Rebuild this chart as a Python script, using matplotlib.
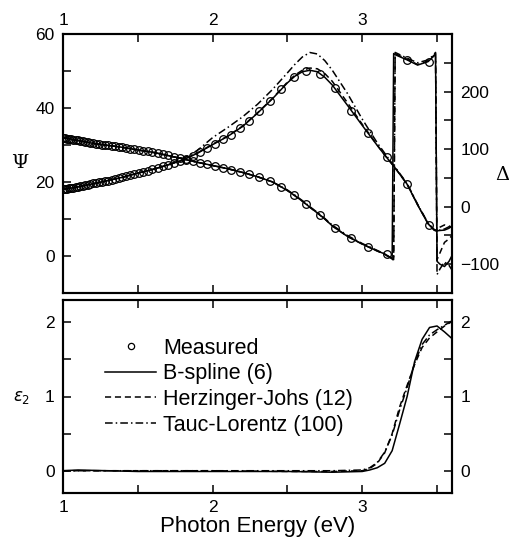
import numpy as np
import matplotlib
matplotlib.use("Agg")
import matplotlib.pyplot as plt
from matplotlib.ticker import MultipleLocator

plt.rcParams['font.family'] = ['Liberation Sans', 'DejaVu Sans']
plt.rcParams['mathtext.fontset'] = 'dejavusans'

# measured points (photon energy, eV)
meas_e = [1.000, 1.013, 1.026, 1.040, 1.054, 1.069, 1.084, 1.099, 1.115, 1.131,
          1.148, 1.165, 1.183, 1.202, 1.220, 1.240, 1.260, 1.281, 1.303, 1.325,
          1.348, 1.372, 1.396, 1.422, 1.449, 1.476, 1.505, 1.535, 1.566, 1.598,
          1.632, 1.667, 1.703, 1.742, 1.782, 1.824, 1.867, 1.914, 1.962, 2.013,
          2.067, 2.123, 2.183, 2.246, 2.313, 2.385, 2.460, 2.541, 2.627, 2.719,
          2.818, 2.925, 3.039, 3.163, 3.298, 3.444]
meas_psi = [18.0, 18.1, 18.2, 18.3, 18.4, 18.5, 18.6, 18.7, 18.8, 19.0,
            19.1, 19.2, 19.4, 19.6, 19.7, 19.9, 20.1, 20.2, 20.4, 20.6,
            20.8, 21.1, 21.3, 21.6, 21.9, 22.1, 22.4, 22.7, 23.0, 23.4,
            23.8, 24.2, 24.6, 25.1, 25.6, 26.3, 27.1, 28.1, 29.2, 30.4,
            31.5, 32.8, 34.5, 36.5, 39.1, 41.9, 45.2, 48.3, 50.1, 49.3,
            45.3, 39.3, 33.2, 26.7, 19.5, 8.5]
meas_delta = [120, 119, 118, 117.5, 117, 116, 115.5, 115, 114, 113.5,
              113, 112, 111, 110, 109.5, 109, 108, 107, 106.5, 106,
              105, 104, 103, 101.5, 100.5, 99.5, 98.5, 97.5, 96, 94.5,
              93, 91, 89, 87, 84.5, 81.5, 78.5, 76, 73.5, 71,
              68, 64.5, 60.5, 56, 51, 44.5, 34.5, 21, 4, -15,
              -37.5, -55, -69.5, -83, 255, 252]

# model curves
fit_e = [1.00, 1.10, 1.20, 1.30, 1.40, 1.50, 1.60, 1.70, 1.80, 1.90,
         2.00, 2.10, 2.20, 2.30, 2.40, 2.50, 2.55, 2.60, 2.65, 2.70,
         2.75, 2.80, 2.90, 3.00, 3.10, 3.15, 3.20, 3.21, 3.22, 3.30,
         3.37, 3.44, 3.48, 3.49, 3.50, 3.52, 3.55, 3.58, 3.60]
psi_bs = [18.0, 18.7, 19.5, 20.4, 21.3, 22.4, 23.4, 24.6, 25.9, 27.8,
          30.1, 32.3, 35.0, 38.6, 42.5, 46.8, 48.6, 49.8, 50.2, 49.8,
          48.3, 46.2, 40.8, 35.3, 29.9, 27.3, 24.8, 24.3, 23.8, 19.4,
          13.8, 8.7, 7.0, 6.8, 6.8, 6.9, 7.0, 7.5, 8.2]
psi_hj = [18.0, 18.7, 19.5, 20.4, 21.3, 22.4, 23.4, 24.6, 25.9, 27.9,
          30.2, 32.4, 35.1, 38.7, 42.6, 47.0, 48.9, 50.2, 50.8, 50.6,
          49.3, 47.2, 41.5, 35.6, 30.0, 27.3, 24.8, 24.3, 23.8, 19.4,
          13.9, 8.8, 7.1, 6.9, 7.2, 7.8, 8.4, 8.0, 7.6]
psi_tl = [18.0, 18.7, 19.5, 20.4, 21.3, 22.4, 23.4, 24.6, 26.2, 28.6,
          32.0, 34.7, 37.6, 41.0, 45.0, 49.5, 51.8, 53.8, 55.0, 54.6,
          52.8, 50.2, 44.0, 37.0, 30.6, 27.8, 25.0, 24.5, 24.0, 19.6,
          14.0, 8.9, 7.2, 7.0, 6.9, 7.0, 7.3, 7.9, 8.6]
delta_bs = [120, 115, 110, 106.5, 103, 98.5, 94.5, 89, 83, 77,
            71.5, 66, 59.5, 52, 43, 28, 19, 9.5, -1, -11,
            -21.5, -33.5, -51.5, -65, -77, -82, -90, 266, 264, 255,
            246, 252, 262, 265, -95, -100, -104, -95, -85]
delta_hj = [120, 115, 110, 106.5, 103, 98.5, 94.5, 89, 83, 77,
            71.5, 66, 59.5, 52, 43, 28, 19, 9.5, -1, -11,
            -21.5, -33.5, -51.5, -65, -77, -83, -91, -92, 266, 256,
            247, 253, 263, 266, -92, -80, -62, -56, -50]
delta_tl = [120, 115, 110, 106.5, 103, 98.5, 94.5, 89, 83, 77,
            71.5, 66, 59.5, 52, 43, 29, 20, 10.5, 0, -10,
            -20.5, -32, -50, -64, -76, -82, -91, -93, 268, 258,
            250, 255, 264, 268, -118, -108, -96, -102, -110]

# epsilon 2
eps_e = [1.00, 1.10, 1.50, 2.00, 2.50, 2.80, 3.00, 3.05, 3.10, 3.15,
         3.20, 3.25, 3.30, 3.35, 3.40, 3.45, 3.50, 3.55, 3.60]
eps_bs = [0.0, 0.01, -0.01, -0.01, -0.01, -0.02, -0.01, 0.01, 0.04, 0.10,
          0.27, 0.63, 1.00, 1.47, 1.77, 1.93, 1.95, 1.87, 1.78]
eps_hj = [0.0, 0.0, 0.0, 0.0, -0.01, -0.01, 0.0, 0.03, 0.10, 0.24,
          0.50, 0.86, 1.15, 1.43, 1.66, 1.79, 1.87, 1.95, 2.01]
eps_tl = [0.0, 0.0, 0.0, 0.0, 0.0, 0.0, 0.01, 0.04, 0.11, 0.25,
          0.48, 0.82, 1.12, 1.45, 1.70, 1.83, 1.90, 1.96, 2.02]

W, H = 509, 548
fig = plt.figure(figsize=(W / 100, H / 100), dpi=100)
ax1 = fig.add_axes([63 / W, 1 - 293 / H, 389 / W, 259 / H])
ax1r = ax1.twinx()
ax2 = fig.add_axes([63 / W, 1 - 493 / H, 389 / W, 193 / H])
ax2r = ax2.twinx()

lw = 1.1
mk = dict(marker='o', ms=5.5, mfc='none', mec='black', mew=0.9, ls='none')

ax1.plot(fit_e, psi_bs, '-', color='black', lw=lw)
ax1.plot(fit_e, psi_hj, '--', color='black', lw=lw, dashes=(4, 2.5))
ax1.plot(fit_e, psi_tl, '-.', color='black', lw=lw, dashes=(5, 2, 1, 2))
ax1.plot(meas_e, meas_psi, **mk)

ax1r.plot(fit_e, delta_bs, '-', color='black', lw=lw)
ax1r.plot(fit_e, delta_hj, '--', color='black', lw=lw, dashes=(4, 2.5))
ax1r.plot(fit_e, delta_tl, '-.', color='black', lw=lw, dashes=(5, 2, 1, 2))
ax1r.plot(meas_e, meas_delta, **mk)

ax2.plot([], [], label='Measured', **dict(mk, ms=4.5))
ax2.plot(eps_e, eps_bs, '-', color='black', lw=lw, label='B-spline (6)')
ax2.plot(eps_e, eps_hj, '--', color='black', lw=lw, dashes=(4, 2.5), label='Herzinger-Johs (12)')
ax2.plot(eps_e, eps_tl, '-.', color='black', lw=lw, dashes=(5, 2, 1, 2), label='Tauc-Lorentz (100)')

for ax in (ax1, ax2):
    ax.set_xlim(1, 3.6)
    ax.xaxis.set_major_locator(MultipleLocator(1))
    ax.xaxis.set_minor_locator(MultipleLocator(0.5))

ax1.set_ylim(-10, 60)
ax1.yaxis.set_major_locator(MultipleLocator(20))
ax1.yaxis.set_minor_locator(MultipleLocator(10))
ax1r.set_ylim(-150, 300)
ax1r.set_yticks([-100, 0, 100, 200])
ax1r.yaxis.set_minor_locator(MultipleLocator(50))

ax2.set_ylim(-0.3, 2.3)
ax2r.set_ylim(-0.3, 2.3)
for ax in (ax2, ax2r):
    ax.yaxis.set_major_locator(MultipleLocator(1))
    ax.yaxis.set_minor_locator(MultipleLocator(0.5))

for ax in (ax1, ax1r, ax2, ax2r):
    ax.tick_params(which='both', direction='in', labelsize=12.5, width=1.1, pad=6)
    ax.tick_params(which='major', length=6)
    ax.tick_params(which='minor', length=6)
    for s in ax.spines.values():
        s.set_linewidth(1.5)

ax1.tick_params(axis='x', which='both', top=True, bottom=True, labeltop=True, labelbottom=False, pad=4)
ax1.tick_params(axis='y', which='both', right=False)
ax1r.tick_params(axis='y', which='both', left=False)
ax2.tick_params(axis='x', which='both', top=True, bottom=True, pad=5)
ax2.tick_params(axis='y', which='both', right=False)

fig.text(20 / W, 1 - 163 / H, 'Ψ', fontsize=14, ha='center', va='center', family='DejaVu Serif')
fig.text(502 / W, 1 - 175 / H, 'Δ', fontsize=14, ha='center', va='center', family='DejaVu Serif')
fig.text(22 / W, 1 - 398 / H, r'$\varepsilon_2$', fontsize=12, ha='center', va='center')

ax2.set_xlabel('Photon Energy (eV)', fontsize=16, labelpad=1)

ax2.legend(loc='upper left', bbox_to_anchor=(0.085, 0.85), frameon=False, fontsize=15.5,
           handlelength=2.4, handletextpad=0.3, labelspacing=0.22, borderaxespad=0)

fig.savefig('out.png', dpi=100)
